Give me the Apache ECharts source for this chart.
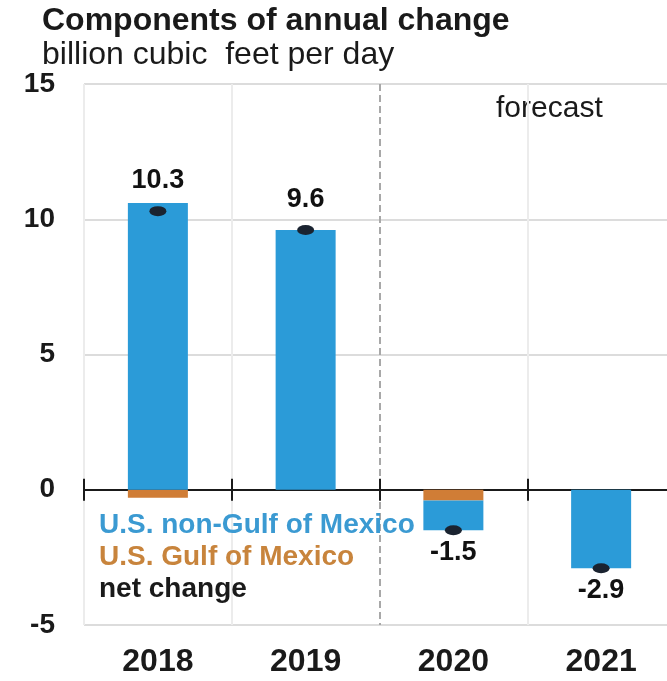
<!DOCTYPE html>
<html>
<head>
<meta charset="utf-8">
<style>
html,body{margin:0;padding:0;background:#fff;}
#chart{width:667px;height:681px;}
</style>
<script src="https://cdn.jsdelivr.net/npm/echarts@6/dist/echarts.min.js"></script>
</head>
<body>
<div id="chart"></div>
<script>
var categories = ['2018', '2019', '2020', '2021'];
var nonGulf = [10.6, 9.6, -1.1, -2.9];
var gulf = [-0.3, 0, -0.4, 0];
var netChange = [10.3, 9.6, -1.5, -2.9];
var seriesNames = ['U.S. non-Gulf of Mexico', 'U.S. Gulf of Mexico', 'net change'];
var titleText = 'Components of annual change';
var unitText = 'billion cubic  feet per day';
var forecastText = 'forecast';
var forecastStartIndex = 2;

var FONT = '"Liberation Sans", Arial, sans-serif';
var BLUE = '#2b9bd8';
var ORANGE = '#d07d36';
var DOT = '#1a2330';

var chart = echarts.init(document.getElementById('chart'), null, {renderer: 'canvas'});

var netData = netChange.map(function (v) {
  return {
    value: v,
    label: v >= 0 ? {position: 'top', distance: 12} : {position: 'bottom', distance: 4}
  };
});

var option = {
  backgroundColor: '#ffffff',
  animation: false,
  title: {
    text: titleText,
    subtext: unitText,
    left: 37,
    top: 0,
    itemGap: 2,
    textStyle: {fontFamily: FONT, fontSize: 32, fontWeight: 'bold', color: '#1a1a1a'},
    subtextStyle: {fontFamily: FONT, fontSize: 32, fontWeight: 'normal', color: '#1a1a1a'}
  },
  legend: {
    orient: 'vertical',
    left: 94,
    top: 506,
    itemWidth: 0,
    itemHeight: 0,
    itemGap: 4,
    icon: 'none',
    selectedMode: false,
    data: [
      {name: seriesNames[0], textStyle: {color: '#3b9ad2'}},
      {name: seriesNames[1], textStyle: {color: '#c8843c'}},
      {name: seriesNames[2], textStyle: {color: '#1a1a1a'}}
    ],
    textStyle: {fontFamily: FONT, fontSize: 28, fontWeight: 'bold', padding: [0, 0, 0, -5]}
  },
  grid: {left: 84, width: 591, top: 84, bottom: 56, containLabel: false, outerBoundsMode: 'none'},
  xAxis: [
    {
      type: 'category',
      data: categories,
      position: 'bottom',
      axisLine: {show: false, onZero: false},
      axisTick: {show: false},
      axisLabel: {fontFamily: FONT, fontSize: 32, fontWeight: 'bold', color: '#1a1a1a', margin: 21},
      splitLine: {
        show: true,
        interval: function (idx) { return idx !== forecastStartIndex; },
        lineStyle: {color: '#ececec', width: 2}
      }
    },
    {
      type: 'category',
      data: categories,
      position: 'bottom',
      axisLine: {show: true, onZero: true, lineStyle: {color: '#1a1a1a', width: 2}},
      axisTick: {show: true, length: 11, lineStyle: {color: '#1a1a1a', width: 2}},
      axisLabel: {show: false},
      splitLine: {show: false}
    },
    {
      type: 'category',
      data: categories,
      position: 'bottom',
      axisLine: {show: false, onZero: true, onZeroAxisIndex: 0},
      axisTick: {show: true, inside: true, length: 11, lineStyle: {color: '#1a1a1a', width: 2}},
      axisLabel: {show: false},
      splitLine: {show: false}
    },
    {
      type: 'value',
      min: 0,
      max: categories.length,
      interval: forecastStartIndex,
      position: 'bottom',
      axisLine: {show: false, onZero: false},
      axisTick: {show: false},
      axisLabel: {show: false},
      splitLine: {
        show: true,
        showMinLine: false,
        showMaxLine: false,
        lineStyle: {color: '#a8a8a8', width: 2, type: [7, 4]}
      }
    }
  ],
  yAxis: {
    type: 'value',
    min: -5,
    max: 15,
    interval: 5,
    axisLine: {show: false, onZero: false},
    axisTick: {show: false},
    axisLabel: {fontFamily: FONT, fontSize: 28, fontWeight: 'bold', color: '#1a1a1a', margin: 29},
    splitLine: {show: true, lineStyle: {color: '#dcdcdc', width: 2}}
  },
  series: [
    {
      name: seriesNames[1],
      type: 'bar',
      stack: 'total',
      xAxisIndex: 1,
      barWidth: 60,
      itemStyle: {color: ORANGE},
      data: gulf,
      z: 2
    },
    {
      name: seriesNames[0],
      type: 'bar',
      stack: 'total',
      xAxisIndex: 1,
      barWidth: 60,
      itemStyle: {color: BLUE},
      data: nonGulf,
      z: 2
    },
    {
      name: seriesNames[2],
      type: 'scatter',
      xAxisIndex: 1,
      symbol: 'circle',
      symbolSize: [17, 10],
      itemStyle: {color: DOT, opacity: 1},
      label: {
        show: true,
        fontFamily: FONT,
        fontSize: 27,
        fontWeight: 'bold',
        color: '#111111'
      },
      data: netData,
      z: 5
    }
  ],
  graphic: [
    {
      type: 'text',
      left: 496,
      top: 94,
      style: {text: forecastText, fontFamily: FONT, fontSize: 30, fill: '#1a1a1a'}
    }
  ]
};

chart.setOption(option);
</script>
</body>
</html>
